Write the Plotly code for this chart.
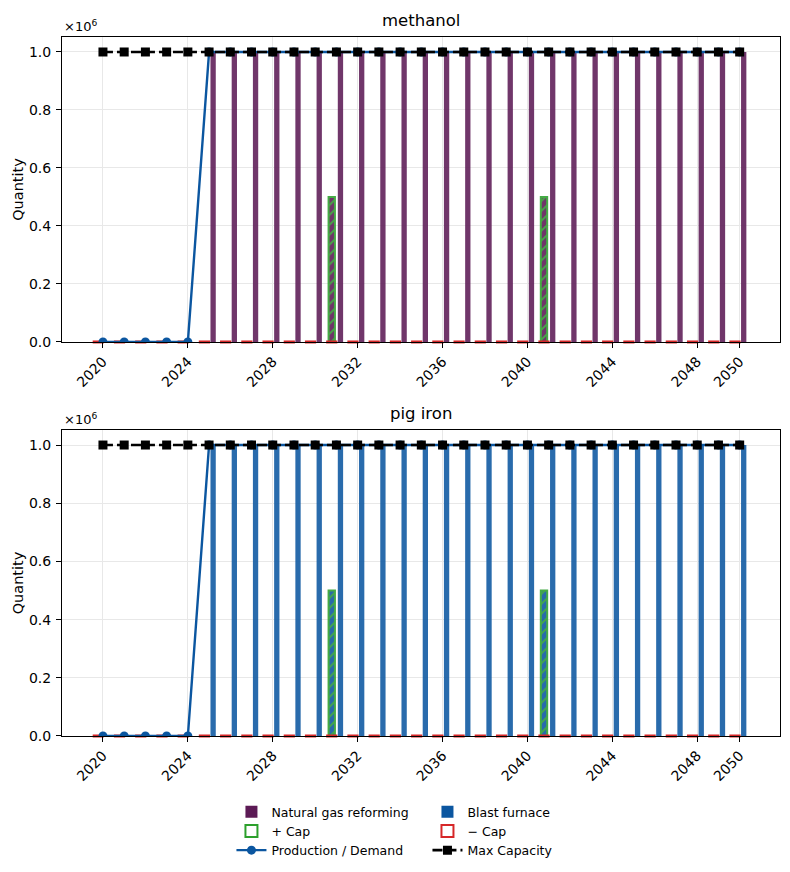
import plotly.graph_objects as go

# ---------------- data ----------------
years = [2020, 2021, 2022, 2023, 2024, 2025, 2026, 2027, 2028, 2029, 2030,
         2031, 2032, 2033, 2034, 2035, 2036, 2037, 2038, 2039, 2040,
         2041, 2042, 2043, 2044, 2045, 2046, 2047, 2048, 2049, 2050]

panels = ["methanol", "pig iron"]
technologies = ["Natural gas reforming", "Blast furnace"]
tech_colors = ["#5c1a55", "#0b56a0"]

methanol_production = [0, 0, 0, 0, 0, 1e6, 1e6, 1e6, 1e6, 1e6, 1e6,
                       1e6, 1e6, 1e6, 1e6, 1e6, 1e6, 1e6, 1e6, 1e6, 1e6,
                       1e6, 1e6, 1e6, 1e6, 1e6, 1e6, 1e6, 1e6, 1e6, 1e6]
methanol_plus_cap = [0, 0, 0, 0, 0, 0, 0, 0, 0, 0, 0,
                     5e5, 0, 0, 0, 0, 0, 0, 0, 0, 0,
                     5e5, 0, 0, 0, 0, 0, 0, 0, 0, 0]
methanol_minus_cap = [0, 0, 0, 0, 0, 0, 0, 0, 0, 0, 0,
                      0, 0, 0, 0, 0, 0, 0, 0, 0, 0,
                      0, 0, 0, 0, 0, 0, 0, 0, 0, 0]
methanol_demand = [0, 0, 0, 0, 0, 1e6, 1e6, 1e6, 1e6, 1e6, 1e6,
                   1e6, 1e6, 1e6, 1e6, 1e6, 1e6, 1e6, 1e6, 1e6, 1e6,
                   1e6, 1e6, 1e6, 1e6, 1e6, 1e6, 1e6, 1e6, 1e6, 1e6]
methanol_max_cap = [1e6, 1e6, 1e6, 1e6, 1e6, 1e6, 1e6, 1e6, 1e6, 1e6, 1e6,
                    1e6, 1e6, 1e6, 1e6, 1e6, 1e6, 1e6, 1e6, 1e6, 1e6,
                    1e6, 1e6, 1e6, 1e6, 1e6, 1e6, 1e6, 1e6, 1e6, 1e6]

pig_iron_production = [0, 0, 0, 0, 0, 1e6, 1e6, 1e6, 1e6, 1e6, 1e6,
                       1e6, 1e6, 1e6, 1e6, 1e6, 1e6, 1e6, 1e6, 1e6, 1e6,
                       1e6, 1e6, 1e6, 1e6, 1e6, 1e6, 1e6, 1e6, 1e6, 1e6]
pig_iron_plus_cap = [0, 0, 0, 0, 0, 0, 0, 0, 0, 0, 0,
                     5e5, 0, 0, 0, 0, 0, 0, 0, 0, 0,
                     5e5, 0, 0, 0, 0, 0, 0, 0, 0, 0]
pig_iron_minus_cap = [0, 0, 0, 0, 0, 0, 0, 0, 0, 0, 0,
                      0, 0, 0, 0, 0, 0, 0, 0, 0, 0,
                      0, 0, 0, 0, 0, 0, 0, 0, 0, 0]
pig_iron_demand = [0, 0, 0, 0, 0, 1e6, 1e6, 1e6, 1e6, 1e6, 1e6,
                   1e6, 1e6, 1e6, 1e6, 1e6, 1e6, 1e6, 1e6, 1e6, 1e6,
                   1e6, 1e6, 1e6, 1e6, 1e6, 1e6, 1e6, 1e6, 1e6, 1e6]
pig_iron_max_cap = [1e6, 1e6, 1e6, 1e6, 1e6, 1e6, 1e6, 1e6, 1e6, 1e6, 1e6,
                    1e6, 1e6, 1e6, 1e6, 1e6, 1e6, 1e6, 1e6, 1e6, 1e6,
                    1e6, 1e6, 1e6, 1e6, 1e6, 1e6, 1e6, 1e6, 1e6, 1e6]

x_tick_vals = [2020, 2024, 2028, 2032, 2036, 2040, 2044, 2048, 2050]
y_tick_vals = [0, 2e5, 4e5, 6e5, 8e5, 1e6]
y_tick_text = ["0.0", "0.2", "0.4", "0.6", "0.8", "1.0"]

production = [methanol_production, pig_iron_production]
plus_cap = [methanol_plus_cap, pig_iron_plus_cap]
minus_cap = [methanol_minus_cap, pig_iron_minus_cap]
demand = [methanol_demand, pig_iron_demand]
max_cap = [methanol_max_cap, pig_iron_max_cap]

# ---------------- styles ----------------
FONT = "DejaVu Sans"
GREEN = "#2ca02c"
RED = "#d62728"
LINE_BLUE = "#0b56a0"
BAR_OPACITY = 0.88

fig = go.Figure()

for i in range(2):
    xa = "x" if i == 0 else "x2"
    ya = "y" if i == 0 else "y2"
    first = i == 0
    # production bar (technology)
    fig.add_trace(go.Bar(
        x=years, y=production[i], xaxis=xa, yaxis=ya,
        name=technologies[i], width=0.25, offset=0.065,
        marker=dict(color=tech_colors[i], opacity=BAR_OPACITY, line=dict(width=0)),
        legend="legend" if i == 0 else "legend2", legendrank=1,
        showlegend=True,
    ))
    # + Cap bars (hatched)
    fig.add_trace(go.Bar(
        x=years, y=plus_cap[i], xaxis=xa, yaxis=ya,
        name="+ Cap", width=0.3, offset=-0.37,
        marker=dict(color=tech_colors[i], opacity=BAR_OPACITY,
                    line=dict(color=GREEN, width=2),
                    pattern=dict(shape="/", fgcolor=GREEN, bgcolor=tech_colors[i],
                                 size=7, solidity=0.25, fillmode="replace")),
        showlegend=False,
    ))
    # - Cap bars (zero height, legend entry)
    fig.add_trace(go.Bar(
        x=years, y=minus_cap[i], xaxis=xa, yaxis=ya,
        name="\u2212 Cap", width=0.3, offset=-0.37,
        marker=dict(color="white", line=dict(color=RED, width=2)),
        legend="legend2", legendrank=2, showlegend=first,
    ))
    # - Cap outline as rendered at zero height
    fig.add_trace(go.Scatter(
        x=[y - 0.22 for y in years], y=minus_cap[i], xaxis=xa, yaxis=ya,
        mode="markers", cliponaxis=False, hoverinfo="skip",
        marker=dict(symbol="line-ew", size=8, line=dict(color=RED, width=3)),
        showlegend=False,
    ))
    # Production / Demand
    fig.add_trace(go.Scatter(
        x=years, y=demand[i], xaxis=xa, yaxis=ya,
        name="Production / Demand", mode="lines+markers",
        line=dict(color=LINE_BLUE, width=2.4),
        marker=dict(symbol="circle", size=9, color=LINE_BLUE),
        legend="legend", legendrank=3, showlegend=first,
    ))
    # Max capacity
    fig.add_trace(go.Scatter(
        x=years, y=max_cap[i], xaxis=xa, yaxis=ya,
        name="Max Capacity", mode="lines+markers", cliponaxis=False,
        line=dict(color="black", width=2.6, dash="10px,4px"),
        marker=dict(symbol="square", size=9, color="black"),
        legend="legend2", legendrank=3, showlegend=first,
    ))

# legend-only patch for + Cap
fig.add_trace(go.Bar(
    x=[None], y=[None], name="+ Cap",
    marker=dict(color="white", line=dict(color=GREEN, width=2)),
    legend="legend", legendrank=2, showlegend=True,
))

axis_common = dict(
    showline=True, linecolor="black", linewidth=1.1, mirror=True,
    ticks="outside", ticklen=5, tickwidth=1.1, tickcolor="black",
    showgrid=True, gridcolor="#e8e8e8", gridwidth=1,
    zeroline=False, tickfont=dict(family=FONT, size=14, color="black"),
    automargin=False, layer="above traces",
)

xr = [2018.07, 2051.9]
yr = [0, 1.0517e6]
fig.update_layout(
    width=790, height=872,
    margin=dict(l=62, r=10, t=37, b=136, autoexpand=False),
    paper_bgcolor="white", plot_bgcolor="white",
    barmode="overlay",
    font=dict(family=FONT, size=14, color="black"),
    xaxis=dict(axis_common, domain=[0, 1], anchor="y", range=xr,
               tickvals=x_tick_vals, tickangle=-45),
    yaxis=dict(axis_common, domain=[0.5637, 1], anchor="x", range=yr,
               tickvals=y_tick_vals, ticktext=y_tick_text, ticklabelstandoff=2,
               title=dict(text="Quantity", font=dict(family=FONT, size=14.5), standoff=1)),
    xaxis2=dict(axis_common, domain=[0, 1], anchor="y2", range=xr,
                tickvals=x_tick_vals, tickangle=-45),
    yaxis2=dict(axis_common, domain=[0, 0.4378], anchor="x2", range=yr,
                tickvals=y_tick_vals, ticktext=y_tick_text, ticklabelstandoff=2,
                title=dict(text="Quantity", font=dict(family=FONT, size=14.5), standoff=1)),
    legend=dict(x=0.236, y=-0.0873, xanchor="left", yanchor="top",
                orientation="v", font=dict(family=FONT, size=12.5),
                bgcolor="rgba(0,0,0,0)", traceorder="normal"),
    legend2=dict(x=0.509, y=-0.0873, xanchor="left", yanchor="top",
                 orientation="v", font=dict(family=FONT, size=12.5),
                 bgcolor="rgba(0,0,0,0)", traceorder="normal"),
    showlegend=True,
)

for i, name in enumerate(panels):
    xd = "x domain" if i == 0 else "x2 domain"
    yd = "y domain" if i == 0 else "y2 domain"
    fig.add_annotation(text=name, xref=xd, yref=yd, x=0.5, y=1,
                       xanchor="center", yanchor="bottom", yshift=5,
                       showarrow=False, font=dict(family=FONT, size=16.5))
    fig.add_annotation(text="\u00d710<sup>6</sup>", xref=xd, yref=yd, x=0, y=1,
                       xanchor="left", yanchor="bottom", yshift=1,
                       showarrow=False, font=dict(family=FONT, size=13))

fig.write_html("out.html")
